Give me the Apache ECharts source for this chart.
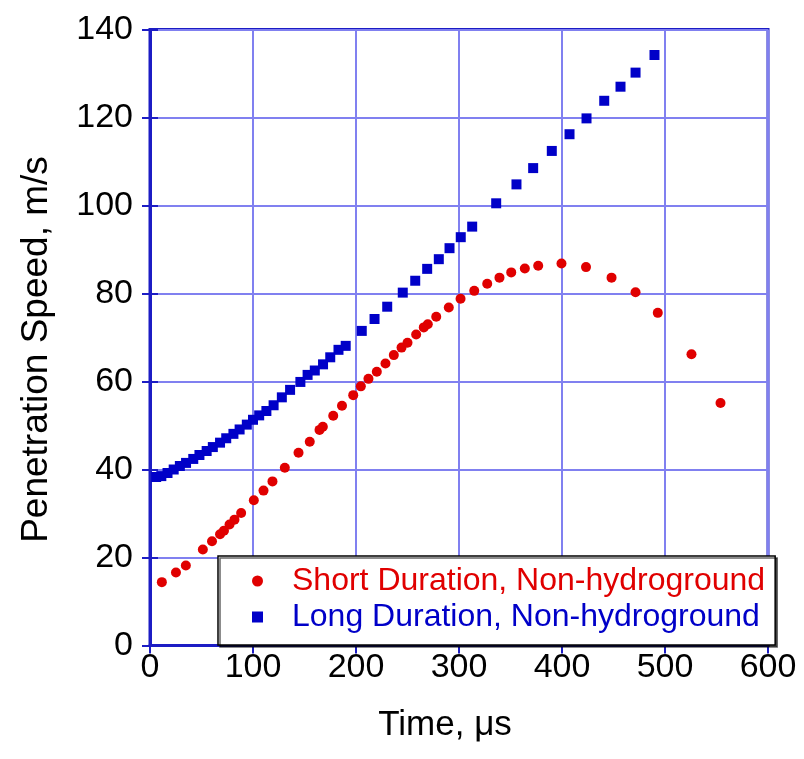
<!DOCTYPE html>
<html>
<head>
<meta charset="utf-8">
<script src="https://cdn.jsdelivr.net/npm/echarts@6/dist/echarts.min.js"></script>
<style>html,body{margin:0;padding:0;background:#fff}#c{width:804px;height:759px}</style>
</head>
<body>
<div id="c"></div>
<script>
const shortTime = [11.5,25.2,34.8,51.3,60.2,68,71.8,77.2,82,88.5,100.8,110.2,118.9,130.9,144.2,155.1,164.6,167.8,177.9,186.4,197.3,204.7,212.1,220.2,228.6,236.7,244.2,250,258.4,265.8,269.7,277.9,290.1,301.5,314.8,327.4,339.3,350.7,363.9,376.9,399.5,423.3,448.1,471.4,493,525.7,553.9];
const shortSpeed = [14.4,16.6,18.2,21.8,23.7,25.3,26.1,27.5,28.6,30.1,33.0,35.2,37.3,40.4,43.8,46.3,49.0,49.7,52.2,54.5,56.9,58.9,60.6,62.2,64.1,66.0,67.7,68.8,70.7,72.3,73.0,74.7,76.8,78.8,80.6,82.2,83.6,84.8,85.7,86.3,86.8,86.0,83.6,80.3,75.6,66.2,55.1];
const longTime = [6,11,17,23,29,35,42,48,55,61,68,74,81,87,94,100,106,113,120,128,136,146,153,160,168,175,183,190,205.6,218,230.3,245.4,257.5,269.1,280.4,290.8,301.7,312.8,336.1,355.8,372,390.1,407.3,423.8,441,456.8,471.4,489.8];
const longSpeed = [38.3,38.5,39.2,40.0,40.8,41.5,42.4,43.3,44.2,45.1,46.1,47.1,48.1,49.1,50.2,51.3,52.3,53.3,54.6,56.4,58.1,59.9,61.5,62.5,63.9,65.5,67.2,68.1,71.5,74.2,77.0,80.2,82.9,85.6,87.8,90.3,92.8,95.2,100.5,104.8,108.5,112.4,116.2,119.8,123.8,127.0,130.2,134.2];
const seriesNames = ['Short Duration, Non-hydroground','Long Duration, Non-hydroground'];
const xTicks = [0,100,200,300,400,500,600];
const yTicks = [0,20,40,60,80,100,120,140];

const RED = '#e00000', BLUE = '#0000c8';
const FRAME = '#1c1cc4', GRID = '#8080f0';
const chart = echarts.init(document.getElementById('c'));
const axisCommon = {
  type: 'value',
  axisLine: { show: true, lineStyle: { color: FRAME, width: 3 } },
  axisTick: { show: true, inside: true, length: 8, lineStyle: { color: FRAME, width: 2 } },
  splitLine: { show: true, lineStyle: { color: GRID, width: 2 } }
};
chart.setOption({
  animation: false,
  backgroundColor: '#fff',
  grid: { left: 150, top: 29.5, right: 36, bottom: 113.5, show: true, borderColor: FRAME, borderWidth: 3 },
  xAxis: [
    Object.assign({}, axisCommon, {
      min: xTicks[0], max: xTicks[xTicks.length-1], interval: 100,
      name: 'Time, \u03bcs', nameLocation: 'middle', nameGap: 62,
      nameTextStyle: { fontFamily: 'Liberation Sans, Arial', fontSize: 35, color: '#000', padding: [0, 28, 0, 0] },
      axisLabel: { margin: 5, fontFamily: 'Liberation Sans, Arial', fontSize: 34, color: '#000' }
    }),
    Object.assign({}, axisCommon, {
      position: 'top', min: xTicks[0], max: xTicks[xTicks.length-1], interval: 100,
      axisLabel: { show: false }, splitLine: { show: false }
    })
  ],
  yAxis: [
    Object.assign({}, axisCommon, {
      min: yTicks[0], max: yTicks[yTicks.length-1], interval: 20,
      name: 'Penetration Speed, m/s', nameLocation: 'middle', nameGap: 95,
      nameTextStyle: { fontFamily: 'Liberation Sans, Arial', fontSize: 37, color: '#000', padding: [0, 24, 0, 0] },
      axisLabel: { margin: 17, fontFamily: 'Liberation Sans, Arial', fontSize: 34, color: '#000' }
    }),
    Object.assign({}, axisCommon, {
      position: 'right', min: yTicks[0], max: yTicks[yTicks.length-1], interval: 20,
      axisLabel: { show: false }, splitLine: { show: false }
    })
  ],
  legend: {
    orient: 'vertical', left: 218, top: 556,
    backgroundColor: '#fff', borderColor: '#000', borderWidth: 1.5,
    shadowColor: 'rgba(0,0,0,0.6)', shadowOffsetX: 2, shadowOffsetY: 2, shadowBlur: 0,
    padding: [9, 10, 12, 34],
    itemWidth: 11, itemHeight: 11, itemGap: 4,
    data: [
      { name: seriesNames[0], icon: 'circle', textStyle: { color: RED } },
      { name: seriesNames[1], icon: 'rect', textStyle: { color: BLUE } }
    ],
    textStyle: { fontFamily: 'Liberation Sans, Arial', fontSize: 32, lineHeight: 31, padding: [0, 0, 0, 24] }
  },
  series: [
    { name: seriesNames[0], type: 'scatter', symbol: 'circle', symbolSize: 10,
      itemStyle: { color: RED, opacity: 1 }, z: 3,
      data: shortTime.map((t, i) => [t, shortSpeed[i]]) },
    { name: seriesNames[1], type: 'scatter', symbol: 'rect', symbolSize: 10,
      itemStyle: { color: BLUE, opacity: 1 }, z: 3,
      data: longTime.map((t, i) => [t, longSpeed[i]]) }
  ]
});
</script>
</body>
</html>
